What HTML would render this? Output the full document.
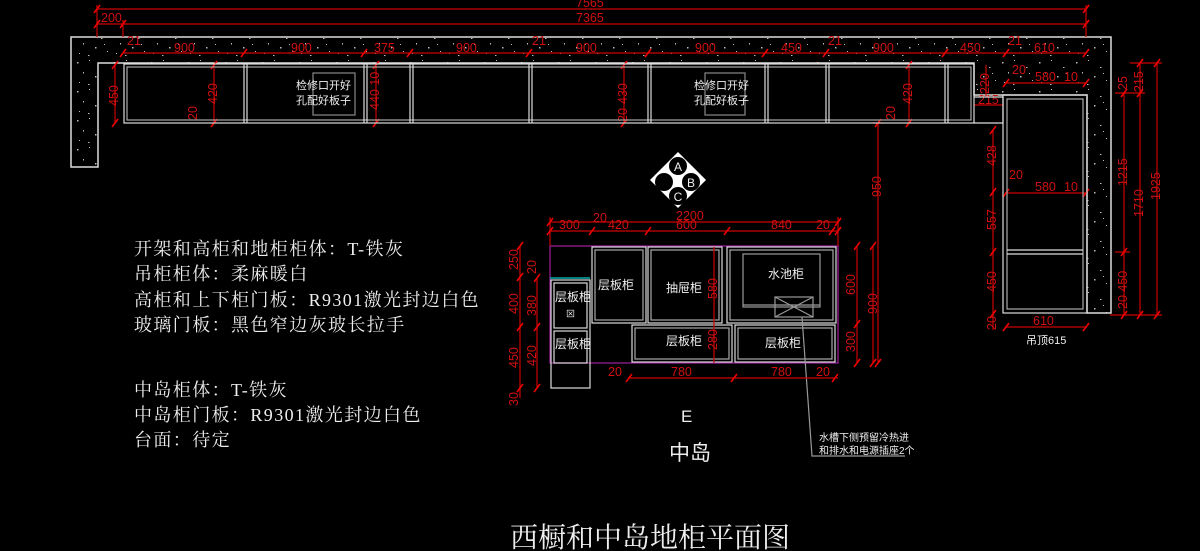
<!DOCTYPE html>
<html><head><meta charset="utf-8"><style>
html,body{margin:0;padding:0;background:#000;}
svg{display:block}
.d{font-family:"Liberation Sans","Noto Sans CJK SC",sans-serif;fill:#d01010;font-size:12.5px}
.w{font-family:"Liberation Sans","Noto Sans CJK SC",sans-serif;fill:#eee}
.t{font-family:"Liberation Serif","Noto Serif CJK SC",serif;fill:#eee;font-size:18px;letter-spacing:1.4px}
</style></head><body>
<svg width="1200" height="551" viewBox="0 0 1200 551" xmlns="http://www.w3.org/2000/svg">
<defs>
<pattern id="sp" width="37" height="29" patternUnits="userSpaceOnUse">
<rect width="37" height="29" fill="#000"/>
<g fill="#bbb">
<rect x="3" y="4" width="1.5" height="1.5"/><rect x="15" y="2" width="1" height="1"/><rect x="27" y="9" width="1.5" height="1"/>
<rect x="9" y="14" width="1" height="1.5"/><rect x="21" y="18" width="1.5" height="1.5"/><rect x="33" y="22" width="1" height="1"/>
<rect x="5" y="24" width="1" height="1"/><rect x="14" y="26" width="1.5" height="1"/><rect x="30" y="15" width="1" height="1"/>
</g></pattern>
</defs>
<path d="M71,37 H1111 V313 H1087 V95 H974 V63 H98 V167 H71 Z" fill="url(#sp)" stroke="#ddd" stroke-width="1.5"/>
<g stroke="#c00" stroke-width="1.2" fill="none">
<line x1="97" y1="9" x2="1086" y2="9"/><line x1="97" y1="24" x2="1086" y2="24"/>
<line x1="97" y1="5" x2="97" y2="37"/><line x1="123" y1="20" x2="123" y2="37"/><line x1="1086" y1="5" x2="1086" y2="37"/>
<line x1="123" y1="53" x2="1086" y2="53"/>
<line x1="1005" y1="83" x2="1086" y2="83"/>
<line x1="1005" y1="193" x2="1086" y2="193"/>
<line x1="1005" y1="327" x2="1087" y2="327"/>
<line x1="115" y1="65" x2="115" y2="123"/><line x1="214" y1="65" x2="214" y2="123"/><line x1="376" y1="65" x2="376" y2="123"/>
<line x1="624" y1="65" x2="624" y2="123"/><line x1="909" y1="65" x2="909" y2="123"/>
<line x1="878" y1="123" x2="878" y2="363"/><line x1="872" y1="123" x2="884" y2="123"/>
<line x1="993" y1="130" x2="993" y2="330"/>
<line x1="986" y1="65" x2="986" y2="97"/>
<line x1="974" y1="105" x2="1003" y2="105"/>
<line x1="1124" y1="93" x2="1124" y2="315"/><line x1="1140" y1="63" x2="1140" y2="315"/><line x1="1157" y1="63" x2="1157" y2="315"/>
<line x1="1130" y1="63" x2="1162" y2="63"/><line x1="1115" y1="93" x2="1145" y2="93"/><line x1="1115" y1="252" x2="1130" y2="252"/><line x1="1110" y1="315" x2="1162" y2="315"/>
</g>
<g stroke="#e00" stroke-width="1.6">
<path d="M94,13l6,-8M94,28l6,-8M120,28l6,-8M1083,13l6,-8M1083,28l6,-8M120,57l6,-8M241,57l6,-8M361,57l6,-8M407,57l6,-8M526,57l6,-8M645,57l6,-8M762,57l6,-8M823,57l6,-8M942,57l6,-8M1003,57l6,-8M1083,57l6,-8M1003,87l6,-8M1083,87l6,-8M1003,197l6,-8M1083,197l6,-8M1003,331l6,-8M1083,331l6,-8M112,69l6,-8M112,127l6,-8M211,69l6,-8M211,127l6,-8M373,69l6,-8M373,127l6,-8M621,69l6,-8M621,127l6,-8M906,69l6,-8M906,127l6,-8M875,127l6,-8M875,367l6,-8M990,134l6,-8M990,196l6,-8M990,256l6,-8M990,318l6,-8M1121,97l6,-8M1121,256l6,-8M1121,319l6,-8M1137,67l6,-8M1137,97l6,-8M1137,319l6,-8M1154,67l6,-8M1154,319l6,-8"/>
</g>
<g class="d">
<text x="576" y="7">7565</text><text x="576" y="22">7365</text><text x="101" y="22">200</text>
<text x="127" y="45">21</text><text x="174" y="52">900</text><text x="291" y="52">900</text><text x="374" y="52">375</text><text x="456" y="52">900</text>
<text x="532" y="45">21</text><text x="576" y="52">900</text><text x="695" y="52">900</text><text x="781" y="52">450</text><text x="828" y="45">21</text>
<text x="873" y="52">900</text><text x="960" y="52">450</text><text x="1008" y="45">21</text><text x="1034" y="52">610</text>
<text x="1035" y="81">580</text><text x="1064" y="81">10</text><text x="1012" y="74">20</text><text x="978" y="104">215</text>
<text x="1035" y="191">580</text><text x="1064" y="191">10</text><text x="1009" y="179">20</text><text x="1033" y="325">610</text>
<g transform="translate(118,106) rotate(-90)"><text>450</text></g>
<g transform="translate(217,104) rotate(-90)"><text>420</text></g>
<g transform="translate(197,120) rotate(-90)"><text>20</text></g>
<g transform="translate(379,110) rotate(-90)"><text>440 10</text></g>
<g transform="translate(627,104) rotate(-90)"><text>430</text></g>
<g transform="translate(627,122) rotate(-90)"><text>20</text></g>
<g transform="translate(912,104) rotate(-90)"><text>420</text></g>
<g transform="translate(895,120) rotate(-90)"><text>20</text></g>
<g transform="translate(881,197) rotate(-90)"><text>950</text></g>
<g transform="translate(989,94) rotate(-90)"><text>220</text></g>
<g transform="translate(996,166) rotate(-90)"><text>428</text></g>
<g transform="translate(996,230) rotate(-90)"><text>557</text></g>
<g transform="translate(996,292) rotate(-90)"><text>450</text></g>
<g transform="translate(996,330) rotate(-90)"><text>20</text></g>
<g transform="translate(1127,90) rotate(-90)"><text>25</text></g>
<g transform="translate(1127,186) rotate(-90)"><text>1215</text></g>
<g transform="translate(1127,309) rotate(-90)"><text>20 450</text></g>
<g transform="translate(1143,92) rotate(-90)"><text>215</text></g>
<g transform="translate(1143,217) rotate(-90)"><text>1710</text></g>
<g transform="translate(1160,200) rotate(-90)"><text>1925</text></g>
</g>
<g stroke="#ddd" stroke-width="1.2" fill="none">
<rect x="124" y="64" width="850" height="59"/>
<rect x="127" y="67" width="844" height="53" stroke="#aaa"/>
<path d="M244,64V123M247,64V123M364,64V123M367,64V123M410,64V123M413,64V123M529,64V123M532,64V123M648,64V123M651,64V123M765,64V123M768,64V123M826,64V123M829,64V123M945,64V123M948,64V123"/>
<path d="M974,97 H1003 V123 H974"/>
<rect x="1003" y="95" width="84" height="218"/>
<rect x="1007" y="99" width="76" height="210" stroke="#aaa"/>
<path d="M1007,250H1083M1007,254H1083"/>
<rect x="313" y="73" width="42" height="42" stroke="#888"/>
<rect x="705" y="73" width="40" height="42" stroke="#888"/>
</g>
<g class="w" font-size="11"><text x="296" y="89">检修口开好</text><text x="296" y="104">孔配好板子</text>
<text x="694" y="89">检修口开好</text><text x="694" y="104">孔配好板子</text>
<text x="1026" y="344">吊顶615</text></g>
<g transform="translate(678,180)">
<polygon points="0,-28 28,0 0,28 -28,0" fill="#fff"/>
<circle cx="0" cy="-14" r="9" fill="#000"/><circle cx="13" cy="2" r="9" fill="#000"/><circle cx="0" cy="16" r="9" fill="#000"/><circle cx="-14" cy="2" r="9" fill="#000"/>
<g class="w" font-size="12" text-anchor="middle"><text x="0" y="-9">A</text><text x="13" y="7">B</text><text x="0" y="21">C</text></g>
</g>
<g fill="none" stroke-width="1.2">
<rect x="550" y="246" width="288" height="117" stroke="#a020a0"/>
<line x1="550" y1="278" x2="590" y2="278" stroke="#0cc"/>
<g stroke="#ddd">
<rect x="551" y="280" width="39" height="108"/>
<rect x="554" y="283" width="33" height="45"/><rect x="554" y="331" width="33" height="32"/>
<rect x="592" y="247" width="54" height="76"/><rect x="595" y="250" width="48" height="70" stroke="#aaa"/>
<rect x="648" y="247" width="74" height="76"/><rect x="651" y="250" width="68" height="70" stroke="#aaa"/>
<rect x="727" y="247" width="109" height="76"/><rect x="730" y="250" width="103" height="70" stroke="#aaa"/>
<rect x="632" y="325" width="100" height="37"/><rect x="635" y="328" width="94" height="31" stroke="#aaa"/>
<rect x="735" y="325" width="100" height="37"/><rect x="738" y="328" width="94" height="31" stroke="#aaa"/>
</g>
<g stroke="#999"><rect x="743" y="254" width="77" height="53"/><line x1="743" y1="305" x2="820" y2="305"/>
<rect x="775" y="297" width="38" height="20"/><path d="M775,297L813,317M813,297L775,317"/>
<path d="M802,317 L812,456 H905"/></g>
</g>
<g class="w" font-size="12">
<text x="555" y="301">层板柜</text><text x="566" y="317" font-size="9">⊠</text><text x="555" y="348">层板柜</text>
<text x="598" y="289">层板柜</text><text x="666" y="292">抽屉柜</text><text x="768" y="278">水池柜</text>
<text x="666" y="345">层板柜</text><text x="765" y="347">层板柜</text>
</g>
<g class="w" font-size="10"><text x="819" y="441">水槽下侧预留冷热进</text><text x="819" y="454">和排水和电源插座2个</text></g>
<g stroke="#c00" stroke-width="1.2" fill="none">
<line x1="550" y1="222" x2="838" y2="222"/><line x1="550" y1="231" x2="838" y2="231"/>
<line x1="550" y1="217" x2="550" y2="246"/><line x1="838" y1="217" x2="838" y2="246"/>
<line x1="520" y1="246" x2="520" y2="398"/><line x1="537" y1="278" x2="537" y2="388"/>
<line x1="857" y1="246" x2="857" y2="363"/><line x1="873" y1="246" x2="873" y2="363"/>
<line x1="628" y1="378" x2="838" y2="378"/>
<line x1="714" y1="247" x2="714" y2="363"/>
</g>
<g stroke="#e00" stroke-width="1.6">
<path d="M547,226l6,-8M835,226l6,-8M547,235l6,-8M589,235l6,-8M645,235l6,-8M724,235l6,-8M829,235l6,-8M835,235l6,-8M517,250l6,-8M517,281l6,-8M517,331l6,-8M517,392l6,-8M534,282l6,-8M534,331l6,-8M534,392l6,-8M854,250l6,-8M854,328l6,-8M854,367l6,-8M870,250l6,-8M870,367l6,-8M626,382l6,-8M731,382l6,-8M832,382l6,-8"/>
</g>
<g class="d">
<text x="676" y="220">2200</text><text x="559" y="229">300</text><text x="593" y="222">20</text><text x="608" y="229">420</text><text x="676" y="229">600</text>
<text x="771" y="229">840</text><text x="816" y="229">20</text>
<text x="608" y="376">20</text><text x="671" y="376">780</text><text x="771" y="376">780</text><text x="816" y="376">20</text>
<g transform="translate(518,270) rotate(-90)"><text>250</text></g>
<g transform="translate(518,314) rotate(-90)"><text>400</text></g>
<g transform="translate(518,368) rotate(-90)"><text>450</text></g>
<g transform="translate(518,406) rotate(-90)"><text>30</text></g>
<g transform="translate(536,274) rotate(-90)"><text>20</text></g>
<g transform="translate(536,316) rotate(-90)"><text>380</text></g>
<g transform="translate(536,366) rotate(-90)"><text>420</text></g>
<g transform="translate(717,299) rotate(-90)"><text>580</text></g>
<g transform="translate(717,350) rotate(-90)"><text>280</text></g>
<g transform="translate(855,295) rotate(-90)"><text>600</text></g>
<g transform="translate(855,352) rotate(-90)"><text>300</text></g>
<g transform="translate(877,314) rotate(-90)"><text>900</text></g>
</g>
<g class="w"><text x="681" y="422" font-size="17">E</text><text x="669" y="460" font-size="21" font-family="'Noto Sans CJK SC',sans-serif">中岛</text></g>
<text x="510" y="547" font-size="28" fill="#eee" font-family="'Noto Serif CJK SC',serif">西橱和中岛地柜平面图</text>
<g class="t">
<text x="134" y="255">开架和高柜和地柜柜体：T-铁灰</text>
<text x="134" y="280">吊柜柜体：柔麻暖白</text>
<text x="134" y="306">高柜和上下柜门板：R9301激光封边白色</text>
<text x="134" y="331">玻璃门板：黑色窄边灰玻长拉手</text>
<text x="134" y="396">中岛柜体：T-铁灰</text>
<text x="134" y="421">中岛柜门板：R9301激光封边白色</text>
<text x="134" y="446">台面：待定</text>
</g>
</svg>
</body></html>
